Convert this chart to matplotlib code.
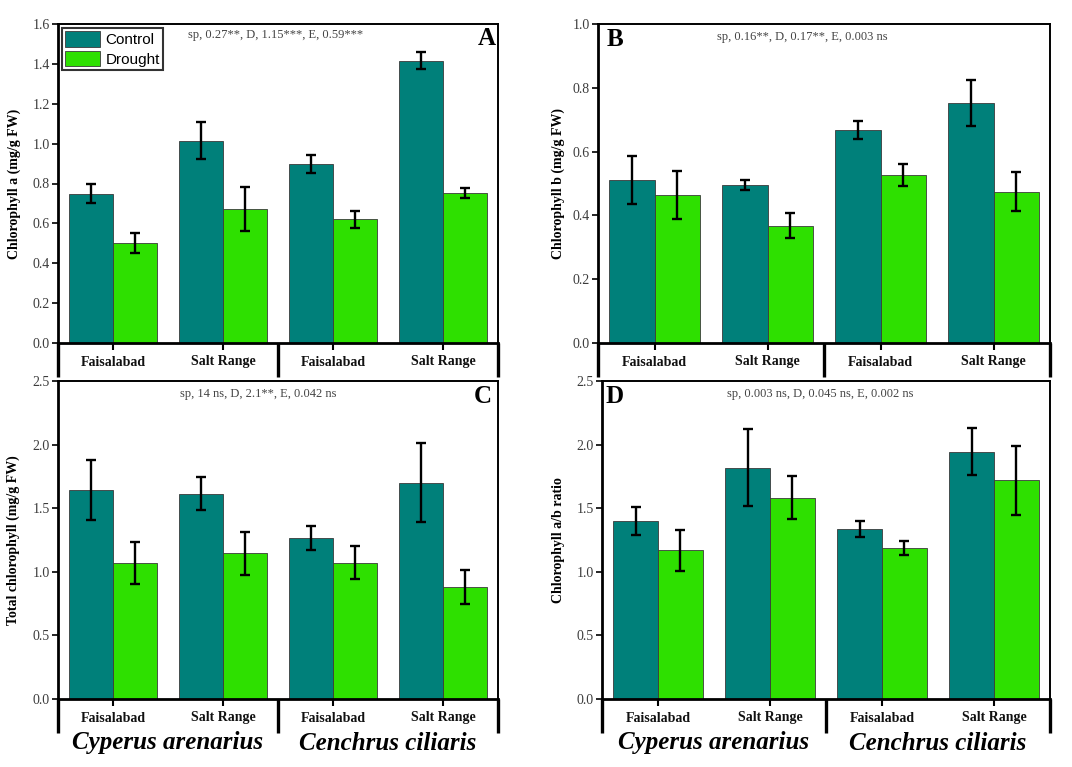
import matplotlib
matplotlib.use("Agg")
import matplotlib.pyplot as plt
import numpy as np
from matplotlib.transforms import blended_transform_factory

plt.rcParams['font.family'] = ['Liberation Serif', 'DejaVu Serif']

# ---------------- data ----------------
sites = ["Faisalabad", "Salt Range", "Faisalabad", "Salt Range"]
species = ["Cyperus arenarius", "Cenchrus ciliaris"]
series = ["Control", "Drought"]

chla_control = [0.749, 1.015, 0.896, 1.416]
chla_control_err = [0.047, 0.093, 0.045, 0.043]
chla_drought = [0.501, 0.673, 0.620, 0.754]
chla_drought_err = [0.049, 0.110, 0.044, 0.025]

chlb_control = [0.511, 0.496, 0.668, 0.752]
chlb_control_err = [0.076, 0.016, 0.028, 0.072]
chlb_drought = [0.465, 0.368, 0.526, 0.474]
chlb_drought_err = [0.075, 0.038, 0.035, 0.061]

total_control = [1.641, 1.613, 1.264, 1.702]
total_control_err = [0.235, 0.131, 0.093, 0.313]
total_drought = [1.068, 1.144, 1.073, 0.880]
total_drought_err = [0.167, 0.171, 0.133, 0.134]

ratio_control = [1.403, 1.819, 1.338, 1.945]
ratio_control_err = [0.110, 0.300, 0.065, 0.185]
ratio_drought = [1.168, 1.584, 1.186, 1.720]
ratio_drought_err = [0.163, 0.170, 0.054, 0.270]

ylabels = ["Chlorophyll a (mg/g FW)", "Chlorophyll b (mg/g FW)",
           "Total chlorophyll (mg/g FW)", "Chlorophyll a/b ratio"]
stats_text = ["sp, 0.27**, D, 1.15***, E, 0.59***",
              "sp, 0.16**, D, 0.17**, E, 0.003 ns",
              "sp, 14 ns, D, 2.1**, E, 0.042 ns",
              "sp, 0.003 ns, D, 0.045 ns, E, 0.002 ns"]
panel_letters = ["A", "B", "C", "D"]
ymax = [1.6, 1.0, 2.5, 2.5]
ystep = [0.2, 0.2, 0.5, 0.5]

COL_C = "#00807A"
COL_D = "#2EE000"

W, H = 1072, 767
fig = plt.figure(figsize=(W / 100, H / 100), dpi=100)

# axes boxes in pixels: left, right, top, bottom
boxes = [(58, 498, 24, 343), (598, 1050, 24, 343),
         (58, 498, 381, 699), (602, 1050, 381, 699)]
bracket_bottom_px = [377, 377, 733, 733]
letter_pos = [(0.975, 0.953, 'center'), (0.038, 0.95, 'center'),
              (0.966, 0.95, 'center'), (0.029, 0.95, 'center')]
stats_x = [0.494, 0.453, 0.455, 0.487]
stats_y = [0.966, 0.958, 0.958, 0.958]
ylab_off = [37, 33, 38, 37]

data = [(chla_control, chla_control_err, chla_drought, chla_drought_err),
        (chlb_control, chlb_control_err, chlb_drought, chlb_drought_err),
        (total_control, total_control_err, total_drought, total_drought_err),
        (ratio_control, ratio_control_err, ratio_drought, ratio_drought_err)]

x = np.arange(1, len(sites) + 1)
bw = 0.4

for i in range(4):
    l, r, t, b = boxes[i]
    ax = fig.add_axes([l / W, (H - b) / H, (r - l) / W, (b - t) / H])
    c, ce, d, de = data[i]
    ax.bar(x - bw / 2, c, bw, color=COL_C, edgecolor="#3a3a3a", linewidth=0.6,
           label=series[0], zorder=2)
    ax.bar(x + bw / 2, d, bw, color=COL_D, edgecolor="#3a3a3a", linewidth=0.6,
           label=series[1], zorder=2)
    ax.errorbar(x - bw / 2, c, yerr=ce, fmt='none', ecolor='black',
                elinewidth=1.7, capsize=3.3, capthick=1.7, zorder=3)
    ax.errorbar(x + bw / 2, d, yerr=de, fmt='none', ecolor='black',
                elinewidth=1.7, capsize=3.3, capthick=1.7, zorder=3)

    ax.set_xlim(0.5, 4.5)
    ax.set_ylim(0, ymax[i])
    ticks = np.arange(0, ymax[i] + 1e-9, ystep[i])
    ax.set_yticks(ticks)
    ax.set_yticklabels([f"{v:.1f}" for v in ticks], fontsize=10, color="#3c3c3c")
    ax.tick_params(axis='y', direction='out', length=4, width=1.2, pad=2)
    ax.set_xticks(x)
    ax.set_xticklabels(sites, fontsize=10, fontweight='bold', color='#111111')
    ax.tick_params(axis='x', direction='out', length=5, width=1.5, pad=4)

    for s in ['top', 'right']:
        ax.spines[s].set_linewidth(1.4)
    for s in ['left', 'bottom']:
        ax.spines[s].set_linewidth(2.0)

    ax.set_ylabel(ylabels[i], fontsize=10, fontweight='bold')
    ax.yaxis.set_label_coords(-ylab_off[i] / (r - l), 0.5)

    ax.text(stats_x[i], stats_y[i], stats_text[i], transform=ax.transAxes,
            ha='center', va='center', fontsize=9, color='#444444')
    lx, ly, ha = letter_pos[i]
    ax.text(lx, ly, panel_letters[i], transform=ax.transAxes, ha=ha, va='center',
            fontsize=18, fontweight='bold')

    # group bracket below axis
    tr = blended_transform_factory(ax.transData, fig.transFigure)
    ybot = (H - bracket_bottom_px[i]) / H
    ytop = (H - b) / H
    for xv in [0.5, 2.5, 4.5]:
        ax.plot([xv, xv], [ytop, ybot], transform=tr, color='black',
                lw=2.4, clip_on=False, solid_capstyle='butt')

    if i >= 2:
        for k, sp in enumerate(species):
            ax.text(1.5 + 2 * k, (H - 743) / H, sp, transform=tr, ha='center',
                    va='center', fontsize=18, fontweight='bold', style='italic')

    if i == 0:
        leg = ax.legend(loc='upper left', bbox_to_anchor=(0.0, 1.0),
                        prop={'family': 'Liberation Sans', 'size': 11},
                        frameon=True, fancybox=False, edgecolor='black',
                        borderaxespad=0.25, handlelength=2.3, handleheight=1.2,
                        handletextpad=0.35, labelspacing=0.25, borderpad=0.2)
        leg.get_frame().set_linewidth(1.5)

fig.savefig("out.png", dpi=100)
